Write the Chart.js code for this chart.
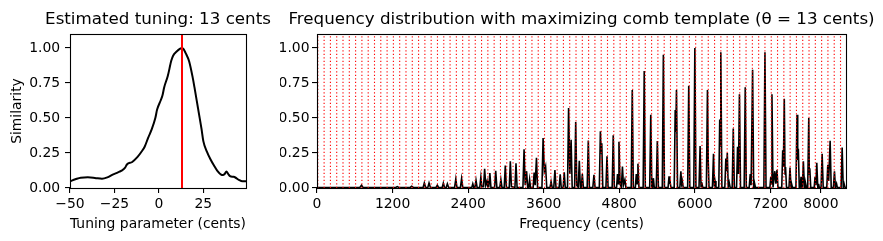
<!DOCTYPE html>
<html><head><meta charset="utf-8">
<script src="https://cdn.jsdelivr.net/npm/chart.js@4"></script>
<style>
html,body{margin:0;padding:0;background:#fff;width:883px;height:241px;overflow:hidden}
canvas{position:absolute;top:0}
#c1{left:0}
#c2{left:280px}
</style></head><body>
<canvas id="c2" width="603" height="241"></canvas>
<canvas id="c1" width="316" height="241"></canvas>
<script>
// ---------- data ----------
const estimatedTuning = 13;
const tuningCents = [-50,-47,-44,-40,-36,-32,-29,-26,-23,-21,-19,-18,-15,-12,-10,-8,-6,-4,-2,-1,1,2,3,5,7,8,10,12,13,14,15,17,19,20,22,24,25,27,29,31,33,35,36,37,38,39,40,42,43,45,47,49];
const similarity  = [0.048,0.062,0.074,0.076,0.072,0.066,0.076,0.096,0.112,0.124,0.145,0.168,0.186,0.222,0.255,0.295,0.36,0.42,0.50,0.56,0.625,0.66,0.72,0.80,0.91,0.945,0.975,0.995,1.0,0.99,0.965,0.905,0.79,0.72,0.57,0.42,0.335,0.26,0.205,0.16,0.12,0.095,0.092,0.10,0.118,0.10,0.085,0.08,0.075,0.058,0.048,0.048];
const tuningTicks = [-50,-25,0,25];
const tuningTickLabels = ['\u221250','\u221225','0','25'];
const similarityTicks = [0,0.25,0.5,0.75,1];
const similarityTickLabels = ['0.00','0.25','0.50','0.75','1.00'];
const freqTicks = [0,1200,2400,3600,4800,6000,7200,8000];
const freqTickLabels = ['0','1200','2400','3600','4800','6000','7200','8000'];
const templateCents = [13,113,213,313,413,513,613,713,813,913,1013,1113,1213,1313,1413,1513,1613,1713,1813,1913,2013,2113,2213,2313,2413,2513,2613,2713,2813,2913,3013,3113,3213,3313,3413,3513,3613,3713,3813,3913,4013,4113,4213,4313,4413,4513,4613,4713,4813,4913,5013,5113,5213,5313,5413,5513,5613,5713,5813,5913,6013,6113,6213,6313,6413,6513,6613,6713,6813,6913,7013,7113,7213,7313,7413,7513,7613,7713,7813,7913,8013,8113,8213,8313];
const freqCents = [
 0,680,707,730,
 1250,1274,1300,1480,1503,1530,
 1685,1704,1725,1760,1779,1800,
 1890,1911,1930,1988,2006,2025,2052,2070,2090,
 2185,2204,2222,2278,2296,2314,
 2458,2474,2490,2508,2525,2542,2585,2602,2618,
 2645,2662,2680,2700,2712,2728,2745,2762,
 2820,2838,2856,2903,2920,2937,2973,2990,3007,
 3053,3070,3087,3143,3160,3177,
 3270,3288,3306,3328,3345,3362,3376,3390,
 3432,3448,3464,3485,3502,
 3572,3590,3610,3630,3648,
 3700,3717,3734,3760,3778,3795,
 3845,3862,3878,3909,3926,3942,
 3978,3995,4015,4035,4052,
 4091,4108,4125,4148,4165,4182,4197,4213,4230,
 4290,4308,4325,4380,4398,4415,
 4483,4500,4511,4522,4538,
 4588,4605,4622,4687,4704,4721,
 4757,4772,4783,4795,4812,
 4833,4850,4866,4889,4905,
 4989,5006,5023,5055,5070,5083,5096,5112,
 5179,5196,5213,5283,5300,5317,5328,5341,5355,
 5387,5404,5421,5483,5500,5517,
 5575,5590,5598,5605,5620,
 5672,5688,5697,5708,5725,
 5762,5778,5790,5800,5815,
 5886,5903,5920,5983,6000,6017,
 6066,6083,6098,6110,6125,
 6183,6200,6212,6225,6279,6296,6310,6320,6335,
 6380,6395,6403,6412,6429,
 6476,6492,6503,6515,6530,6545,6560,
 6593,6610,6627,6662,6678,6692,6708,6725,
 6783,6800,6817,6863,6879,6893,6917,6934,
 6940,6950,6962,7096,7113,7130,
 7192,7206,7214,7224,7241,
 7256,7270,7287,7304,7320,
 7380,7395,7406,7420,7432,7440,7455,
 7495,7511,7527,7532,7540,7550,
 7605,7622,7633,7643,7658,7672,7686,7700,
 7708,7723,7740,7750,7760,7772,
 7792,7809,7817,7825,7840,
 7895,7909,7922,7936,7952,7958,7965,7975,
 8004,8021,8038,8095,8111,8125,8148,8165,
 8200,8217,8232,8240,8250,8262,
 8322,8339,8356,8362,8370,8385,8400
];
const freqValues = [
 0.004,0.004,0.02,0.004,
 0.004,0.01,0.004,0.004,0.012,0.004,
 0.004,0.036,0.004,0.004,0.036,0.004,
 0.004,0.02,0.004,0.004,0.035,0.004,0.004,0.03,0.004,
 0.004,0.064,0.004,0.004,0.066,0.004,
 0.004,0.03,0.004,0.004,0.055,0.004,0.004,0.078,0.01,
 0.01,0.137,0.02,0.05,0.01,0.01,0.107,0.004,
 0.004,0.122,0.004,0.004,0.06,0.004,0.004,0.16,0.004,
 0.004,0.19,0.01,0.004,0.177,0.004,
 0.004,0.277,0.02,0.12,0.004,0.004,0.06,0.004,
 0.004,0.11,0.02,0.215,0.004,
 0.004,0.357,0.12,0.154,0.004,
 0.004,0.045,0.004,0.004,0.128,0.004,
 0.004,0.098,0.004,0.004,0.112,0.004,
 0.004,0.571,0.1,0.345,0.004,
 0.004,0.471,0.02,0.004,0.195,0.004,0.004,0.10,0.004,
 0.004,0.34,0.004,0.004,0.095,0.004,
 0.004,0.405,0.25,0.32,0.004,
 0.004,0.226,0.004,0.004,0.376,0.004,
 0.004,0.10,0.03,0.33,0.03,
 0.004,0.154,0.02,0.06,0.004,
 0.004,0.70,0.004,0.004,0.10,0.03,0.174,0.004,
 0.004,0.836,0.004,0.004,0.524,0.004,0.004,0.07,0.004,
 0.004,0.336,0.004,0.004,0.952,0.004,
 0.004,0.083,0.03,0.06,0.004,
 0.004,0.557,0.4,0.70,0.004,
 0.004,0.119,0.03,0.05,0.004,
 0.004,0.73,0.004,0.004,1.0,0.004,
 0.004,0.30,0.01,0.04,0.004,
 0.004,0.70,0.2,0.004,0.004,0.245,0.01,0.05,0.004,
 0.004,0.49,0.3,0.97,0.004,
 0.004,0.21,0.12,0.25,0.01,0.04,0.004,
 0.004,0.425,0.004,0.004,0.295,0.1,0.67,0.004,
 0.004,0.72,0.004,0.004,0.10,0.02,0.845,0.004,
 0.004,0.03,0.004,0.004,0.97,0.004,
 0.004,0.08,0.03,0.67,0.004,
 0.004,0.12,0.03,0.13,0.004,
 0.004,0.27,0.15,0.638,0.1,0.15,0.004,
 0.004,0.147,0.004,0.004,0.03,0.004,
 0.004,0.524,0.2,0.28,0.004,0.004,0.08,0.004,
 0.004,0.19,0.004,0.004,0.03,0.004,
 0.004,0.50,0.1,0.14,0.004,
 0.004,0.08,0.02,0.18,0.004,0.004,0.03,0.004,
 0.004,0.245,0.004,0.004,0.166,0.05,0.338,0.004,
 0.004,0.12,0.004,0.004,0.03,0.004,
 0.004,0.29,0.004,0.004,0.03,0.004,0.004
];

// ---------- styling ----------
Chart.defaults.font.family = "'DejaVu Sans', sans-serif";
Chart.defaults.color = '#000';
Chart.defaults.animation = false;
const TICK = 13.9, TITLE = 16.7;

const framePlugin = {
  id: 'frame',
  afterDraw(chart) {
    const {ctx, chartArea: a} = chart;
    ctx.save();
    ctx.strokeStyle = '#000';
    ctx.lineWidth = 1.1;
    ctx.strokeRect(Math.round(a.left) + 0.5, Math.round(a.top) + 0.5,
                   Math.round(a.right) - Math.round(a.left), Math.round(a.bottom) - Math.round(a.top));
    ctx.restore();
  }
};
const combPlugin = {
  id: 'comb',
  afterDatasetsDraw(chart) {
    const {ctx, chartArea: a, scales: {x}} = chart;
    ctx.save();
    ctx.beginPath();
    ctx.rect(a.left, a.top, a.right - a.left, a.bottom - a.top);
    ctx.clip();
    ctx.strokeStyle = '#ff0000';
    ctx.lineWidth = 1.1;
    ctx.setLineDash([1.3, 2.2]);
    templateCents.forEach(c => {
      const px = x.getPixelForValue(c);
      ctx.beginPath();
      ctx.moveTo(px, a.bottom);
      ctx.lineTo(px, a.top);
      ctx.stroke();
    });
    ctx.restore();
  }
};

function xAxis(min, max, ticks, labels, title) {
  return {
    type: 'linear', min, max,
    afterBuildTicks: s => { s.ticks = ticks.map(v => ({value: v})); },
    afterFit: s => { s.height = 53; },
    ticks: {callback: (v, i) => labels[i], autoSkip: false, maxRotation: 0, minRotation: 0,
            padding: 3, color: '#000', font: {size: TICK}},
    grid: {display: true, drawOnChartArea: false, drawTicks: true, tickLength: 5, color: '#000', lineWidth: 1.1},
    border: {display: false},
    title: {display: true, text: title, color: '#000', font: {size: TICK}, padding: {top: 0, bottom: 8.5}}
  };
}
function yAxis(width, title, pad) {
  return {
    type: 'linear', min: 0, max: 1.1,
    afterBuildTicks: s => { s.ticks = similarityTicks.map(v => ({value: v})); },
    afterFit: s => { s.width = width; },
    ticks: {callback: (v, i) => similarityTickLabels[i], autoSkip: false, padding: pad, color: '#000', font: {size: TICK}},
    grid: {display: true, drawOnChartArea: false, drawTicks: true, tickLength: 5, color: '#000', lineWidth: 1.1},
    border: {display: false},
    title: {display: !!title, text: title || '', color: '#000', font: {size: TICK}, padding: {top: 8.7, bottom: 0}}
  };
}
// empty right-hand margin box so that the full-width title is centred over the plot
function marginAxis(width) {
  return {
    type: 'linear', position: 'right', display: true, min: 0, max: 1,
    afterFit: s => { s.width = width; },
    ticks: {display: false}, grid: {display: false}, border: {display: false}, title: {display: false}
  };
}
function titleOpts(text) {
  return {display: true, text, color: '#000', fullSize: true,
          font: {size: TITLE, weight: 'normal', lineHeight: '20px'}, padding: {top: 10, bottom: 4}};
}

// ---------- left chart ----------
new Chart(document.getElementById('c1'), {
  type: 'line',
  data: {
    datasets: [
      {data: [{x: estimatedTuning, y: 0}, {x: estimatedTuning, y: 1.1}], borderColor: '#ff0000', borderWidth: 2, pointRadius: 0},
      {data: tuningCents.map((x, i) => ({x, y: similarity[i]})), borderColor: '#000', borderWidth: 2,
       pointRadius: 0, cubicInterpolationMode: 'monotone'}
    ]
  },
  options: {
    responsive: false, devicePixelRatio: 1,
    layout: {padding: 0},
    plugins: {legend: {display: false}, tooltip: {enabled: false}, title: titleOpts('Estimated tuning: 13 cents')},
    scales: {x: xAxis(-50, 49, tuningTicks, tuningTickLabels, 'Tuning parameter (cents)'),
             y: yAxis(70, 'Similarity', 4.9), margin: marginAxis(70)}
  },
  plugins: [framePlugin]
});

// ---------- right chart ----------
new Chart(document.getElementById('c2'), {
  type: 'line',
  data: {
    datasets: [
      {data: freqCents.map((x, i) => ({x, y: freqValues[i]})), borderColor: '#000', borderWidth: 1.6, pointRadius: 0, tension: 0}
    ]
  },
  options: {
    responsive: false, devicePixelRatio: 1,
    layout: {padding: 0},
    plugins: {legend: {display: false}, tooltip: {enabled: false},
              title: titleOpts('Frequency distribution with maximizing comb template (\u03b8 = 13 cents)')},
    scales: {x: xAxis(0, 8400, freqTicks, freqTickLabels, 'Frequency (cents)'),
             y: yAxis(37, null, 2.5), margin: marginAxis(37)}
  },
  plugins: [combPlugin, framePlugin]
});
</script>
</body></html>
